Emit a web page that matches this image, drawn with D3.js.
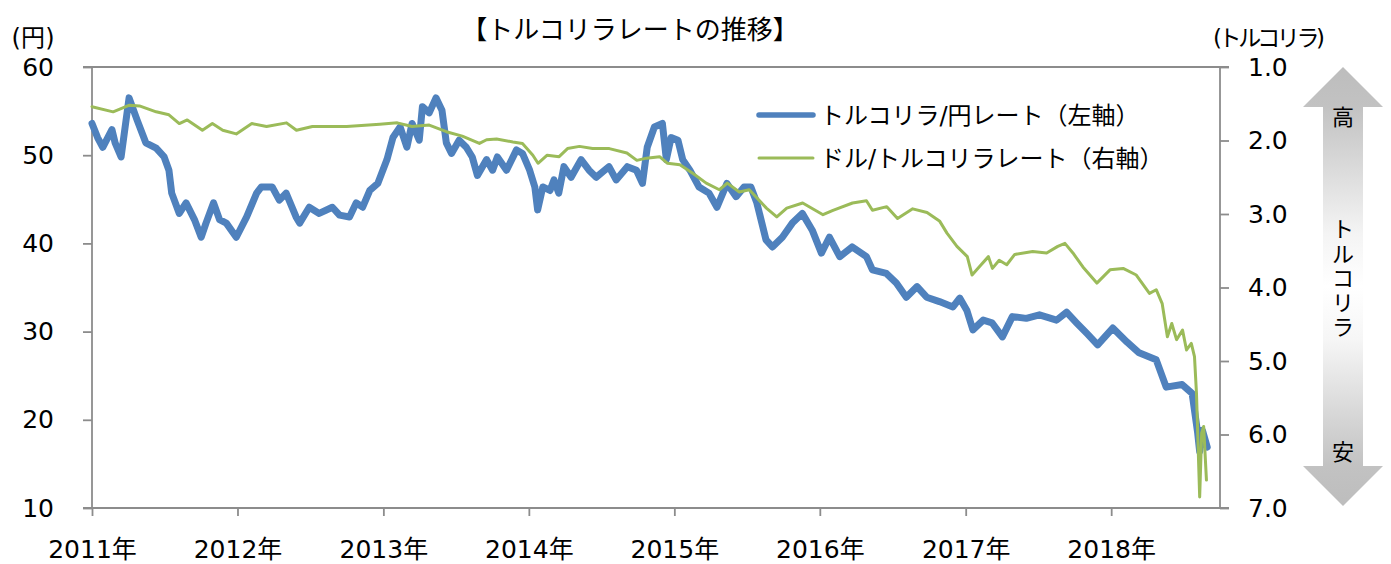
<!DOCTYPE html>
<html>
<head>
<meta charset="utf-8">
<script src="https://cdn.jsdelivr.net/npm/d3@7"></script>
<style>
body { margin: 0; background: #fff; }
text { font-family: "DejaVu Sans", "Noto Sans CJK JP", sans-serif; fill: #000; }
</style>
</head>
<body>
<script>
// トルコリラ/円 (left axis)
var tryJpyDates = ["2011-01-01","2011-01-15","2011-01-28","2011-02-20","2011-02-28","2011-03-15","2011-04-04","2011-04-24",
  "2011-05-16","2011-06-11","2011-07-01","2011-07-13","2011-07-20","2011-08-08","2011-08-25","2011-09-15","2011-10-02",
  "2011-10-14","2011-11-02","2011-11-17","2011-12-04","2011-12-29","2012-01-24","2012-02-18","2012-03-01","2012-03-28",
  "2012-04-15","2012-05-02","2012-05-27","2012-06-05","2012-06-29","2012-07-24","2012-08-26","2012-09-13","2012-10-08",
  "2012-10-25","2012-11-10","2012-11-28","2012-12-18","2013-01-10","2013-01-25","2013-02-12","2013-03-01","2013-03-14",
  "2013-04-01","2013-04-09","2013-04-26","2013-05-13","2013-05-28","2013-06-08","2013-06-21","2013-07-10","2013-07-28",
  "2013-08-12","2013-08-25","2013-09-17","2013-10-02","2013-10-14","2013-11-06","2013-12-01","2013-12-16","2014-01-03",
  "2014-01-16","2014-01-23","2014-02-05","2014-02-23","2014-03-05","2014-03-17","2014-03-30","2014-04-17","2014-05-12",
  "2014-06-01","2014-06-19","2014-07-21","2014-08-08","2014-09-05","2014-09-28","2014-10-13","2014-10-25","2014-11-12",
  "2014-12-02","2014-12-12","2014-12-24","2015-01-10","2015-01-22","2015-02-09","2015-03-04","2015-03-29","2015-04-18",
  "2015-05-13","2015-06-05","2015-06-25","2015-07-12","2015-07-27","2015-08-19","2015-09-04","2015-09-29","2015-10-24",
  "2015-11-18","2015-12-13","2016-01-05","2016-01-25","2016-02-20","2016-03-22","2016-04-27","2016-05-12","2016-06-16",
  "2016-07-11","2016-08-05","2016-09-01","2016-09-25","2016-10-27","2016-11-30","2016-12-17","2017-01-04","2017-01-19",
  "2017-02-14","2017-03-08","2017-04-03","2017-04-28","2017-06-02","2017-07-05","2017-08-17","2017-09-11","2017-10-06",
  "2017-11-01","2017-11-28","2018-01-05","2018-02-10","2018-03-12","2018-04-24","2018-05-19","2018-06-28","2018-07-23",
  "2018-08-06","2018-08-11","2018-08-18","2018-08-30"];
var tryJpyValues = [53.6,52.0,50.9,52.9,51.4,49.8,56.5,54.0,
  51.4,50.8,49.8,48.3,45.7,43.4,44.6,42.7,40.7,
  42.3,44.6,42.7,42.3,40.7,43.0,45.7,46.4,46.4,
  44.9,45.7,43.0,42.3,44.1,43.4,44.1,43.2,43.0,
  44.6,44.1,46.0,46.8,49.5,52.0,53.2,50.9,53.6,
  51.7,55.5,54.8,56.5,55.1,51.4,50.2,51.7,50.9,
  49.8,47.7,49.5,48.3,49.8,48.3,50.6,50.2,48.3,
  46.4,43.8,46.4,46.0,47.2,45.7,48.7,47.5,49.5,
  48.3,47.5,48.7,47.2,48.7,48.3,46.8,50.9,53.2,
  53.6,49.5,52.0,51.7,49.5,48.3,46.4,45.7,44.1,
  46.8,45.3,46.4,46.4,44.6,40.4,39.6,40.7,42.3,
  43.4,41.5,38.9,40.7,38.5,39.6,38.5,37.0,36.6,
  35.5,33.9,35.1,33.9,33.4,32.8,33.8,32.4,30.2,
  31.3,31.0,29.4,31.7,31.5,31.9,31.3,32.2,31.0,
  29.8,28.5,30.4,28.8,27.6,26.8,23.7,24.0,23.0,
  18.5,16.4,18.8,16.9];

// ドル/トルコリラ (right axis, inverted)
var usdTryDates = ["2011-01-01","2011-02-23","2011-04-05","2011-04-30","2011-06-11","2011-07-13","2011-08-08","2011-08-28",
  "2011-10-05","2011-10-30","2011-11-25","2011-12-29","2012-02-06","2012-03-14","2012-05-03","2012-05-28","2012-07-07",
  "2012-10-01","2012-12-23","2013-02-05","2013-03-14","2013-04-26","2013-06-08","2013-07-18","2013-08-30","2013-09-17",
  "2013-10-12","2013-11-22","2013-12-16","2014-01-11","2014-01-24","2014-02-16","2014-03-18","2014-04-08","2014-05-08",
  "2014-06-10","2014-07-22","2014-09-04","2014-09-29","2014-10-23","2014-11-25","2014-12-15","2015-01-15","2015-02-17",
  "2015-03-22","2015-04-24","2015-05-14","2015-06-13","2015-07-08","2015-08-20","2015-09-15","2015-10-10","2015-11-19",
  "2016-01-09","2016-02-03","2016-03-23","2016-04-27","2016-05-12","2016-06-17","2016-07-14","2016-08-21","2016-09-26",
  "2016-10-28","2016-11-15","2016-12-10","2017-01-05","2017-01-17","2017-02-07","2017-02-27","2017-03-09","2017-03-26",
  "2017-04-14","2017-05-04","2017-06-18","2017-07-23","2017-08-20","2017-09-07","2017-09-27","2017-10-22","2017-11-26",
  "2017-12-29","2018-01-31","2018-03-05","2018-04-07","2018-04-24","2018-05-09","2018-05-22","2018-06-02","2018-06-14",
  "2018-06-29","2018-07-09","2018-07-21","2018-07-29","2018-08-03","2018-08-11","2018-08-16","2018-08-21","2018-08-28"];
var usdTryValues = [1.54,1.61,1.52,1.53,1.61,1.65,1.77,1.72,
  1.86,1.77,1.86,1.91,1.77,1.81,1.76,1.86,1.81,
  1.81,1.78,1.76,1.81,1.79,1.88,1.94,2.04,1.99,
  1.98,2.02,2.04,2.20,2.31,2.20,2.22,2.11,2.08,
  2.11,2.11,2.17,2.27,2.24,2.22,2.31,2.33,2.45,
  2.58,2.67,2.58,2.70,2.67,2.92,3.04,2.92,2.85,
  3.01,2.95,2.85,2.82,2.95,2.90,3.06,2.93,2.98,
  3.10,3.26,3.44,3.58,3.83,3.70,3.58,3.74,3.63,
  3.69,3.55,3.51,3.53,3.44,3.40,3.53,3.72,3.94,
  3.76,3.74,3.83,4.08,4.03,4.22,4.67,4.49,4.71,
  4.58,4.85,4.76,4.94,5.44,6.85,5.98,5.89,6.62];

var yearTicks = ["2011","2012","2013","2014","2015","2016","2017","2018"];
var leftTicks = [10, 20, 30, 40, 50, 60];
var rightTicks = [1, 2, 3, 4, 5, 6, 7];
var seriesNames = ["トルコリラ/円レート（左軸）", "ドル/トルコリラレート（右軸）"];
var colors = ["#4F81BD", "#9BBB59"];

var w = 1391;
var h = 564;
var plotLeft = 92, plotRight = 1220, plotTop = 67, plotBottom = 508;

var parse = d3.timeParse("%Y-%m-%d");

var svg = d3.select("body")
    .append("svg")
    .attr("width", w)
    .attr("height", h);

var xScale = d3.scaleTime()
    .domain([parse("2011-01-01"), parse("2018-10-01")])
    .range([plotLeft, plotRight]);

var yLeft = d3.scaleLinear()
    .domain([10, 60])
    .range([plotBottom, plotTop]);

var yRight = d3.scaleLinear()
    .domain([1, 7])
    .range([plotTop, plotBottom]);

var axisColor = "#8c8c8c";

function styleAxis(g) {
    g.select(".domain").remove();
    g.selectAll(".tick line").attr("stroke", axisColor).attr("stroke-width", 1.8);
    g.selectAll("text")
        .style("font-family", "'DejaVu Sans', 'Noto Sans CJK JP', sans-serif")
        .style("font-size", "25px")
        .attr("fill", "#000");
}

svg.append("g")
    .attr("transform", "translate(" + plotLeft + ",0)")
    .call(d3.axisLeft(yLeft).tickValues(leftTicks).tickSize(9).tickPadding(29))
    .call(styleAxis);

svg.append("g")
    .attr("transform", "translate(" + plotRight + ",0)")
    .call(d3.axisRight(yRight).tickValues(rightTicks).tickSize(9).tickPadding(19)
        .tickFormat(d3.format(".1f")))
    .call(styleAxis);

svg.append("g")
    .attr("transform", "translate(0," + plotBottom + ")")
    .call(d3.axisBottom(xScale)
        .tickValues(yearTicks.map(function(y) { return parse(y + "-01-01"); }))
        .tickSize(8).tickPadding(24)
        .tickFormat(function(d) { return d.getFullYear() + "年"; }))
    .call(styleAxis);

// frame lines
svg.append("line")
    .attr("x1", plotLeft - 9).attr("x2", plotRight + 9).attr("y1", plotTop).attr("y2", plotTop)
    .attr("stroke", axisColor).attr("stroke-width", 1.8);
svg.append("line")
    .attr("x1", plotLeft).attr("x2", plotLeft).attr("y1", plotTop).attr("y2", plotBottom)
    .attr("stroke", axisColor).attr("stroke-width", 1.8);
svg.append("line")
    .attr("x1", plotRight).attr("x2", plotRight).attr("y1", plotTop).attr("y2", plotBottom)
    .attr("stroke", axisColor).attr("stroke-width", 1.8);
svg.append("line")
    .attr("x1", plotLeft - 9).attr("x2", plotRight + 9).attr("y1", plotBottom).attr("y2", plotBottom)
    .attr("stroke", axisColor).attr("stroke-width", 1.8);

// series
var blueData = tryJpyDates.map(function(d, i) { return { date: parse(d), value: tryJpyValues[i] }; });
var greenData = usdTryDates.map(function(d, i) { return { date: parse(d), value: usdTryValues[i] }; });

var blueLine = d3.line()
    .x(function(d) { return xScale(d.date); })
    .y(function(d) { return yLeft(d.value); });

var greenLine = d3.line()
    .x(function(d) { return xScale(d.date); })
    .y(function(d) { return yRight(d.value); });

svg.append("path")
    .datum(blueData)
    .attr("d", blueLine)
    .attr("fill", "none")
    .attr("stroke", colors[0])
    .attr("stroke-width", 7)
    .attr("stroke-linejoin", "round")
    .attr("stroke-linecap", "round");

svg.append("path")
    .datum(greenData)
    .attr("d", greenLine)
    .attr("fill", "none")
    .attr("stroke", colors[1])
    .attr("stroke-width", 3)
    .attr("stroke-linejoin", "round")
    .attr("stroke-linecap", "round");

// title and unit labels
svg.append("text")
    .attr("x", 630).attr("y", 39)
    .attr("text-anchor", "middle")
    .style("font-size", "26px")
    .text("【トルコリラレートの推移】");

svg.append("text")
    .attr("x", 33).attr("y", 46)
    .attr("text-anchor", "middle")
    .style("font-size", "24px")
    .attr("textLength", 43)
    .text("(円)");

svg.append("text")
    .attr("x", 1269).attr("y", 46)
    .attr("text-anchor", "middle")
    .style("font-size", "23px")
    .attr("textLength", 112)
    .text("(トルコリラ)");

// legend
var legend = svg.append("g");
seriesNames.forEach(function(name, i) {
    var ly = 115 + i * 43;
    legend.append("line")
        .attr("x1", 759).attr("x2", 813)
        .attr("y1", ly).attr("y2", ly)
        .attr("stroke", colors[i])
        .attr("stroke-width", i === 0 ? 5.5 : 3)
        .attr("stroke-linecap", "round");
    legend.append("text")
        .attr("x", 820).attr("y", ly + 9)
        .style("font-size", "24px")
        .text(name);
});

// gradient double arrow on the right
var defs = svg.append("defs");
var grad = defs.append("linearGradient")
    .attr("id", "arrowGrad")
    .attr("gradientUnits", "userSpaceOnUse")
    .attr("x1", 0).attr("x2", 0).attr("y1", 67).attr("y2", 506);
[[0, "#bdbdbd"], [0.09, "#c2c2c2"], [0.38, "#f4f4f4"], [0.5, "#ffffff"], [0.62, "#f6f6f6"], [0.91, "#c2c2c2"], [1, "#bdbdbd"]]
    .forEach(function(s) {
        grad.append("stop").attr("offset", s[0]).attr("stop-color", s[1]);
    });

var ax = 1343;
svg.append("path")
    .attr("d", "M" + ax + ",67 L" + (ax + 40) + ",107 L" + (ax + 20) + ",107 L" + (ax + 20) + ",466 L" + (ax + 40) + ",466 L" +
        ax + ",506 L" + (ax - 40) + ",466 L" + (ax - 20) + ",466 L" + (ax - 20) + ",107 L" + (ax - 40) + ",107 Z")
    .attr("fill", "url(#arrowGrad)");

svg.append("text")
    .attr("x", ax).attr("y", 125)
    .attr("text-anchor", "middle")
    .style("font-size", "22px")
    .text("高");

svg.append("text")
    .attr("x", ax).attr("y", 460)
    .attr("text-anchor", "middle")
    .style("font-size", "22px")
    .text("安");

"トルコリラ".split("").forEach(function(ch, i) {
    svg.append("text")
        .attr("x", ax).attr("y", 237 + i * 24.5)
        .attr("text-anchor", "middle")
        .style("font-size", "22px")
        .text(ch);
});
</script>
</body>
</html>
